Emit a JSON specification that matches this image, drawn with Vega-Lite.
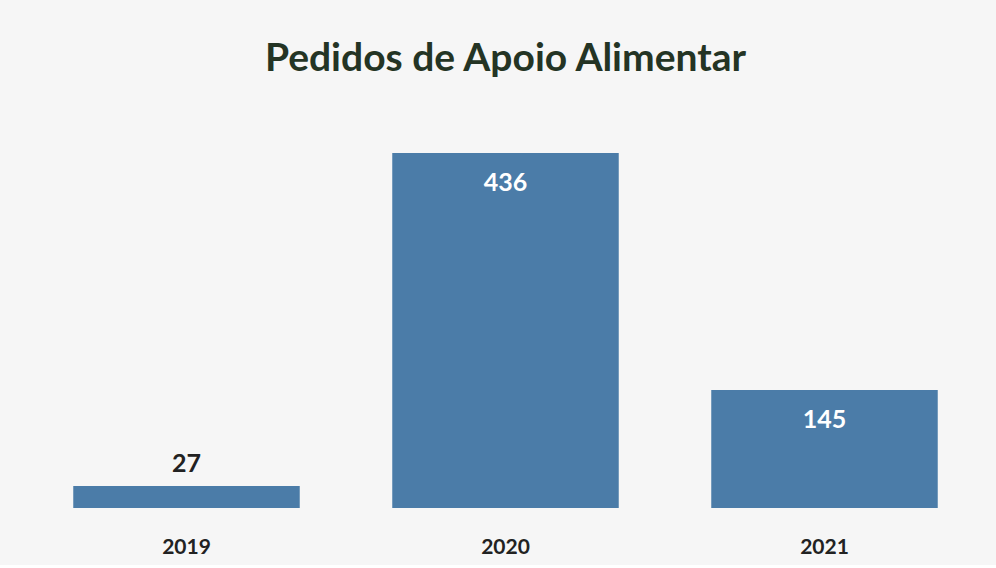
{
  "$schema": "https://vega.github.io/schema/vega-lite/v6.json",
  "width": 957,
  "height": 355,
  "padding": {"left": 27, "top": 40, "right": 12, "bottom": 8},
  "background": "#f6f6f6",
  "title": {
    "text": "Pedidos de Apoio Alimentar",
    "font": "Lato",
    "fontSize": 39,
    "fontWeight": "bold",
    "color": "#243424",
    "anchor": "middle",
    "offset": 74
  },
  "data": {
    "values": [
      {"ano": "2019", "pedidos": 27},
      {"ano": "2020", "pedidos": 436},
      {"ano": "2021", "pedidos": 145}
    ]
  },
  "encoding": {
    "x": {
      "field": "ano",
      "type": "nominal",
      "sort": null,
      "scale": {"paddingInner": 0.29, "paddingOuter": 0.145},
      "axis": {
        "title": null,
        "labelAngle": 0,
        "labelFont": "Lato",
        "labelFontSize": 21,
        "labelFontWeight": "bold",
        "labelColor": "#222222",
        "labelPadding": 28,
        "domain": false,
        "ticks": false
      }
    },
    "y": {
      "field": "pedidos",
      "type": "quantitative",
      "scale": {"domain": [0, 436], "nice": false},
      "axis": null
    }
  },
  "layer": [
    {"mark": {"type": "bar", "color": "#4b7ca8"}},
    {
      "transform": [{"filter": "datum.pedidos >= 100"}],
      "mark": {"type": "text", "baseline": "middle", "dy": 30, "font": "Lato", "fontSize": 25, "fontWeight": "bold", "color": "#ffffff"},
      "encoding": {"text": {"field": "pedidos", "type": "quantitative"}}
    },
    {
      "transform": [{"filter": "datum.pedidos < 100"}],
      "mark": {"type": "text", "baseline": "middle", "dy": -22, "font": "Lato", "fontSize": 25, "fontWeight": "bold", "color": "#222222"},
      "encoding": {"text": {"field": "pedidos", "type": "quantitative"}}
    }
  ],
  "config": {"view": {"stroke": null}}
}
